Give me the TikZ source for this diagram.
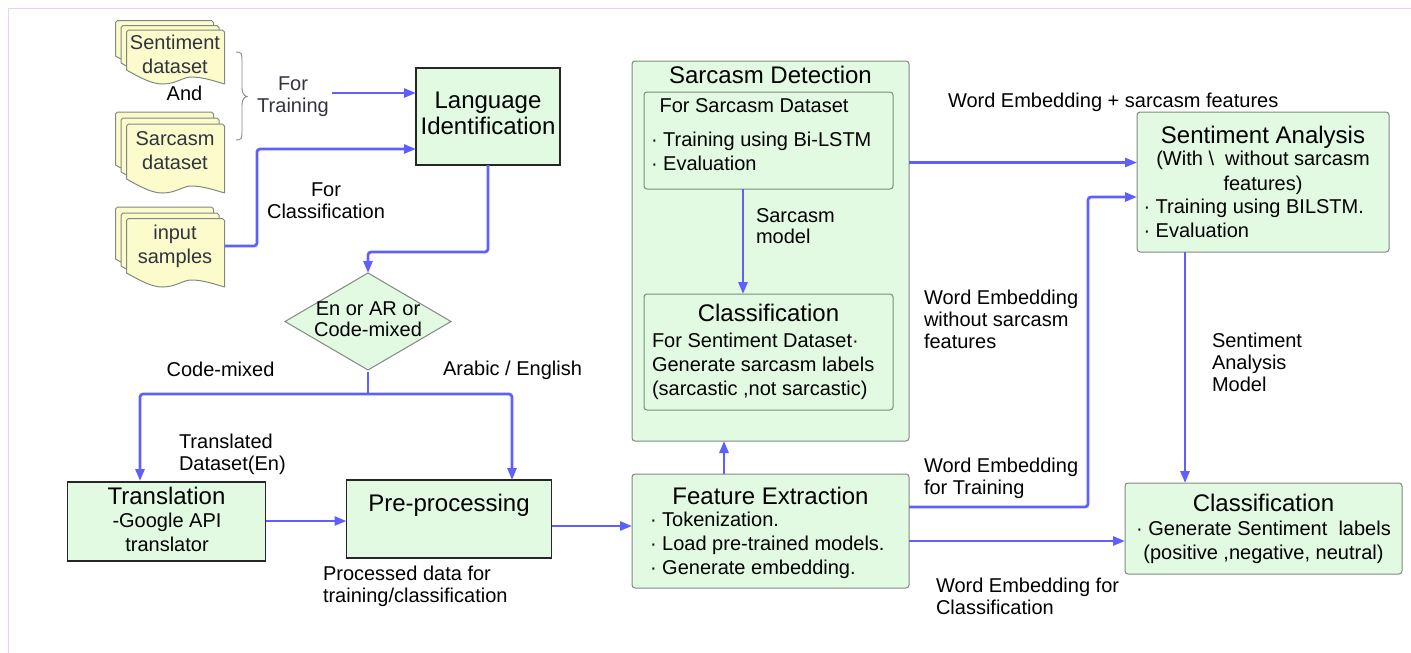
\documentclass[tikz,border=0pt]{standalone}
\usepackage{fontspec}
\setmainfont{Liberation Sans}
\usetikzlibrary{arrows.meta,shapes.geometric}
\definecolor{boxgreen}{HTML}{E2F9E2}
\definecolor{docyellow}{HTML}{FBFBCB}
\definecolor{flow}{HTML}{5F5FFF}
\definecolor{edge}{HTML}{808A80}
\definecolor{inkdark}{HTML}{333340}
\definecolor{pageline}{HTML}{F2CCF8}
\tikzset{
  x=1pt,y=-1pt,
  flowline/.style={draw=flow,line width=2.7pt,rounded corners=3pt,-{Triangle[length=12pt,width=9pt]}},
  flowplain/.style={draw=flow,line width=2.7pt},
  txt/.style={inner sep=0pt,outer sep=0pt,align=left,font=\fontsize{20}{22}\selectfont,text=black},
  txtc/.style={txt,align=center},
  wide/.style={font=\fontsize{20}{24}\selectfont},
  title/.style={txtc,font=\fontsize{24}{25.5}\selectfont},
  softbox/.style={draw=edge,fill=boxgreen,line width=1pt,rounded corners=3pt,inner sep=0pt,outer sep=0pt},
  hardbox/.style={draw=black!85,fill=boxgreen,line width=1.4pt,inner sep=0pt,outer sep=0pt},
  sheet/.style={draw=edge,fill=docyellow,line width=1pt,line join=round},
  doctxt/.style={txtc,wide,text=inkdark},
}
% one sheet: left x, top y, bottom y at the right edge (width 98)
\newcommand{\docsheet}[3]{%
  \path[sheet] ({#1},{#3-14}) .. controls ({#1+16},{#3-5}) and ({#1+26},{#3}) .. ({#1+36},{#3})
     .. controls ({#1+50},{#3}) and ({#1+56},{#3-7}) .. ({#1+65},{#3-7})
     .. controls ({#1+76},{#3-7}) and ({#1+88},{#3-3}) .. ({#1+98},{#3})
     -- ({#1+98},{#2}) -- ({#1+96},{#2-2}) -- ({#1+2},{#2-2}) -- ({#1},{#2}) -- cycle;}
% left x of back sheet, top y of back sheet, top y of middle, top y of front, bottom of front
\newcommand{\docstack}[5]{%
  \docsheet{#1}{#2}{#5-14}
  \docsheet{#1+5.5}{#3}{#5-7}
  \docsheet{#1+11}{#4}{#5}}
\begin{document}
\begin{tikzpicture}
\useasboundingbox (0,0) rectangle (1411,653);
% page frame
\draw[pageline,line width=1pt] (1411,8.5) -- (8.5,8.5) -- (8.5,653);

% document stacks
\docstack{115.5}{22.5}{27.5}{32}{84}
\docstack{115.5}{114}{120}{126}{193}
\docstack{115.5}{209}{215}{220.5}{287}
\node[doctxt] (sentdoc) at (175,54.5) {Sentiment\\dataset};
\node[doctxt] (sarcdoc) at (175,150.5) {Sarcasm\\dataset};
\node[doctxt,minimum width=98pt] (inpdoc) at (175,246) {input\\samples};
\node[txt] (andtxt) at (184.5,93) {And};

% brace
\draw[edge,line width=0.9pt] (236,52) .. controls (242,52) and (242,54) .. (242,60)
  -- (242,88) .. controls (242,93) and (244,96) .. (247,96.5)
  .. controls (244,97) and (242,100) .. (242,105) -- (242,132)
  .. controls (242,138) and (242,140) .. (236,140);

\node[txtc,text=inkdark] (fortrain) at (293,97) {For\\Training};
\node[txtc] (forclass) at (326,200.5) {For\\Classification};

% main boxes
\node[hardbox,minimum width=144pt,minimum height=97pt] (lang) at (488,116.5) {};
\node[title] (langt) at (488,113.5) {Language\\Identification};
\node[diamond,draw=edge,fill=boxgreen,line width=1pt,inner sep=0pt,outer sep=0pt,minimum width=166pt,minimum height=97pt] (dec) at (368,321.5) {};
\node[txtc,font=\fontsize{20}{21}\selectfont] (dect) at (368,319) {En or AR or\\Code-mixed};
\node[hardbox,minimum width=198pt,minimum height=79pt] (trans) at (166.5,521.5) {};
\node[title] (transt) at (166.5,496) {Translation};
\node[txtc,wide] (transs) at (167,532) {-Google API\\translator};
\node[hardbox,minimum width=205pt,minimum height=78pt] (pre) at (449,519) {};
\node[title] (pret) at (449,505) {Pre-processing};

\node[softbox,minimum width=277pt,minimum height=380pt] (sard) at (770.5,251) {};
\node[title] (sardt) at (770.5,75) {Sarcasm Detection};
\node[softbox,minimum width=249pt,minimum height=97pt] (sard1) at (768.5,140.5) {};
\node[txt] (sard1t) at (754,105.5) {For Sarcasm Dataset};
\node[txt,wide,anchor=west] (sard1b) at (651,151) {· Training using Bi-LSTM\\· Evaluation};
\node[softbox,minimum width=249pt,minimum height=116pt] (sard2) at (768.5,352) {};
\node[title] (sard2t) at (768.5,313) {Classification};
\node[txt,wide,anchor=west] (sard2b) at (652,366) {For Sentiment Dataset·\\Generate sarcasm labels\\(sarcastic ,not sarcastic)};
\node[txt,anchor=west,font=\fontsize{20}{21}\selectfont] (sarmod) at (756,226.5) {Sarcasm\\model};

\node[softbox,minimum width=277pt,minimum height=114pt] (feat) at (770.5,531) {};
\node[title] (featt) at (770.5,496) {Feature Extraction};
\node[txt,wide,anchor=west] (featb) at (650,545) {· Tokenization.\\· Load pre-trained models.\\· Generate embedding.};

\node[softbox,minimum width=252pt,minimum height=140pt] (sa) at (1263,182) {};
\node[title] (sat) at (1263,137) {Sentiment Analysis};
\node[txtc,font=\fontsize{20}{25}\selectfont] (sas) at (1263,173) {(With \textbackslash{}\ \ without sarcasm\\features)};
\node[txt,wide,anchor=west] (sab) at (1143.5,218) {· Training using BILSTM.\\· Evaluation};

\node[softbox,minimum width=277pt,minimum height=91pt] (cls) at (1263.5,528.5) {};
\node[title] (clst) at (1263.5,503) {Classification};
\node[txtc,wide] (clsb) at (1263.5,542) {· Generate Sentiment\ \ labels\\(positive ,negative, neutral)};

% free labels
\node[txt] (lcm) at (220.5,369) {Code-mixed};
\node[txt] (lae) at (512.5,370.5) {Arabic / English};
\node[txt,anchor=west] (ltd) at (179,454) {Translated\\Dataset(En)};
\node[txt,anchor=west] (lpd) at (323,586) {Processed data for\\training/classification};
\node[txt,anchor=west] (lwes) at (948,102.5) {Word Embedding + sarcasm features};
\node[txt,anchor=west] (lwen) at (924,319.5) {Word Embedding\\without sarcasm\\features};
\node[txt,anchor=west] (lwet) at (924,478) {Word Embedding\\for Training};
\node[txt,anchor=west] (lwec) at (936,596.5) {Word Embedding for\\Classification};
\node[txt,anchor=west] (lsam) at (1212,362) {Sentiment\\Analysis\\Model};

% anchors for connectors
\coordinate (ftr) at (332,93);
\coordinate (decout) at (368,372);
\coordinate (split) at (368,394);
\coordinate (inpout) at (224.5,246);

% connectors
\draw[flowline] (ftr) -- (ftr -| lang.west);
\draw[flowline] (inpout) -- (257,246) -- (257,149) -- (lang.west |- 0,149);
\draw[flowline] (lang.south) -- (488,252) -- (368,252) -- (dec.north);
\draw[flowplain] (decout) -- (split);
\draw[flowline] (split) -- (140,394) -- (140,481);
\draw[flowline] (split) -- (512,394) -- (pre.north -| 512,0);
\draw[flowline] (trans.east |- 0,521) -- (pre.west |- 0,521);
\draw[flowline] (pre.east |- 0,526) -- (feat.west |- 0,526);
\draw[flowline] (feat.north -| 724,0) -- (sard.south -| 724,0);
\draw[flowline] (sard1.south -| 743,0) -- (sard2.north -| 743,0);
\draw[flowline] (sard.east |- 0,162.5) -- (sa.west |- 0,162.5);
\draw[flowline] (feat.east |- 0,507) -- (1088,507) -- (1088,197) -- (sa.west |- 0,197);
\draw[flowline] (feat.east |- 0,541) -- (cls.west |- 0,541);
\draw[flowline] (sa.south -| 1185,0) -- (cls.north -| 1185,0);
\end{tikzpicture}
\end{document}
